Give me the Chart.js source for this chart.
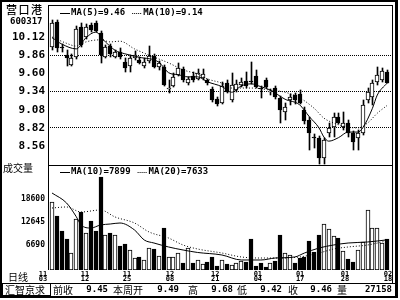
<!DOCTYPE html>
<html><head><meta charset="utf-8">
<script src="https://cdn.jsdelivr.net/npm/chart.js@4/dist/chart.umd.min.js"></script>
<style>html,body{margin:0;padding:0;background:#fff;}#wrap{width:400px;height:300px;position:relative;}</style>
</head><body><div id="wrap"><canvas id="c" width="400" height="300"></canvas></div>
<script>
// ---- data ----
const opens = [9.98,10.33,9.97,9.86,9.72,9.83,10.26,10.12,10.29,10.32, 10.18,9.83,9.99,9.83,9.91,9.76,9.71,9.82,9.79,9.71, 9.78,9.85,9.69,9.69,9.37,9.42,9.58,9.66,9.46,9.56, 9.52,9.53,9.51,9.38,9.23,9.18,9.46,9.22,9.36,9.43, 9.49,9.49,9.56,9.39,9.51,9.33,9.39,9.25,9.05,9.22, 9.29,9.31,9.08,8.93,8.68,8.68,8.39,8.75,8.83,8.98, 8.83,8.89,8.75,8.68,8.75,9.22,9.26,9.48,9.51,9.62];
const highs = [10.36,10.36,10.02,9.93,9.88,10.28,10.32,10.31,10.32,10.35, 10.21,10.01,10.02,9.93,9.96,9.82,9.86,9.92,9.83,9.82, 9.99,9.88,9.78,9.72,9.51,9.61,9.75,9.69,9.55,9.62, 9.66,9.66,9.52,9.41,9.26,9.47,9.51,9.60,9.51,9.53, 9.62,9.76,9.65,9.42,9.53,9.38,9.42,9.28,9.18,9.31, 9.32,9.36,9.12,8.98,8.73,8.70,8.68,8.89,9.03,9.03, 9.05,8.93,8.78,8.79,9.22,9.39,9.51,9.69,9.68,9.65];
const lows = [9.93,9.91,9.91,9.71,9.70,9.81,9.98,10.09,10.19,10.19, 9.75,9.82,9.83,9.82,9.81,9.62,9.62,9.79,9.73,9.68, 9.75,9.68,9.65,9.42,9.32,9.41,9.56,9.48,9.43,9.48, 9.51,9.51,9.43,9.19,9.13,9.16,9.32,9.19,9.33,9.41, 9.39,9.45,9.39,9.25,9.39,9.29,9.23,8.89,8.93,9.15, 9.16,9.16,8.88,8.50,8.53,8.30,8.30,8.69,8.69,8.88, 8.79,8.69,8.50,8.50,8.72,9.18,9.15,9.43,9.48,9.46];
const closes = [10.32,9.96,9.96,9.82,9.82,10.23,10.01,10.26,10.22,10.21, 9.86,9.98,9.88,9.91,9.83,9.68,9.82,9.86,9.75,9.76, 9.85,9.69,9.75,9.43,9.38,9.55,9.68,9.51,9.52,9.51, 9.61,9.59,9.46,9.22,9.16,9.42,9.33,9.43,9.45,9.48, 9.42,9.47,9.41,9.38,9.41,9.35,9.26,9.08,9.12,9.26, 9.22,9.18,8.92,8.75,8.67,8.39,8.65,8.82,8.98,8.89, 8.89,8.75,8.62,8.75,9.15,9.33,9.46,9.58,9.63,9.46];
const volumes = [17900,14150,10300,8120,4540,13280,15110,9780,12840,10300, 24290,9170,9610,9170,6290,6810,5240,3230,3320,2620, 5680,5500,3670,11090,3320,3320,4540,1750,5680,1750, 2620,1570,2180,3490,1050,2620,1570,1310,1910,2440, 2010,8120,1050,1910,870,1750,2360,9170,4540,3930, 1910,3060,3490,7690,4630,9170,11970,10740,8900,8300, 5060,2800,2180,5240,7420,15720,11090,10920,7150,8120];

// moving-average lines at these candle indices
const ma5Idx = [0,2,5,7,9,11,13,15,18,22,24,26,28,30,32,35,37,39,41,43,45,48,51,53,55,56,57,59,61,63,64,66,67,69];
const ma5Val = [10.11,10.02,9.95,10.11,10.19,10.05,9.93,9.88,9.83,9.76,9.61,9.58,9.55,9.55,9.48,9.41,9.33,9.42,9.45,9.41,9.36,9.23,9.15,8.98,8.82,8.69,8.63,8.68,8.76,8.76,8.82,9.10,9.29,9.46];
const ma10Idx = [0,3,5,7,10,12,14,17,20,24,27,30,32,35,37,41,45,48,51,54,56,58,61,63,65,67,69];
const ma10Val = [10.12,10.03,9.99,10.05,10.08,10.05,10.06,9.95,9.86,9.75,9.65,9.59,9.52,9.46,9.39,9.39,9.36,9.33,9.25,9.10,8.96,8.89,8.83,8.82,8.89,9.03,9.14];
const vma10Idx = [0,3,5,6,8,10,12,14,17,19,21,24,27,30,35,39,43,46,50,52,55,58,61,65,67,69];
const vma10Val = [20170,17550,13960,11790,11000,11790,12050,12310,10480,7860,7070,6030,5240,4590,3930,2620,2620,3140,3410,4450,5760,6550,7070,7340,7600,7899];
const vma20Idx = [0,3,6,10,13,17,20,24,27,30,35,39,43,47,51,55,58,61,65,69];
const vma20Val = [16240,16510,15200,15720,13890,12310,9960,8380,6550,5500,4450,3410,3140,3140,3410,4450,5500,6030,6550,7633];

const priceTicks = [10.12, 9.86, 9.60, 9.34, 9.08, 8.82, 8.56];
const priceGridTicks = [9.86, 9.34, 8.82];
const volTicks = [6690, 12645, 18600];
const dateTickPos = [-1.85, 6.8, 15.45, 24.3, 33.6, 42.4, 51.1, 60.35, 69.2];
const dateMonth = ['11','11','11','12','12','01','01','01','02'];
const dateDay = ['03','12','25','08','21','04','17','28','18'];

const stockName = '营口港';
const stockCode = '600317';
const priceLegend = [['MA(5)', '9.46'], ['MA(10)', '9.14']];
const volLegend = [['MA(10)', '7899'], ['MA(20)', '7633']];
const infoLabels = ['前收', '本周开', '高', '低', '收', '量'];
const infoValues = ['9.45', '9.49', '9.68', '9.42', '9.46', '27158'];

// ---- build ----
const idx = closes.map((_, i) => i);
const up = idx.map(i => closes[i] >= opens[i]);
const pts = (ix, v) => ix.map((k, j) => ({x: k, y: v[j]}));
const MONO = '"DejaVu Sans Mono", "Liberation Mono", monospace';
const CJK = '"Noto Sans CJK SC", "Noto Sans", sans-serif';

// snap bar rectangles to whole pixels so the black/white bars stay crisp
const snap = {
  id: 'snap',
  afterDatasetsUpdate(chart) {
    chart.data.datasets.forEach((ds, di) => {
      const meta = chart.getDatasetMeta(di);
      if (meta.type !== 'bar') return;
      const thin = ds.barThickness === 1;
      meta.data.forEach(el => {
        el.x = Math.round(el.x) + (thin ? 0.5 : 0);
        el.y = Math.round(el.y);
        el.base = Math.round(el.base);
      });
    });
  }
};

const decor = {
  id: 'decor',
  beforeDraw(chart) {
    const c = chart.ctx; c.save(); c.fillStyle = '#fff'; c.fillRect(0, 0, 400, 300); c.restore();
  },
  afterDraw(chart) {
    const c = chart.ctx, a = chart.chartArea;
    c.save();
    c.fillStyle = '#000'; c.strokeStyle = '#000';
    // outer frame
    c.fillRect(0, 0, 398, 2);
    c.fillRect(0, 0, 2, 298);
    c.fillRect(395, 0, 3, 298);
    c.fillRect(0, 296, 398, 2);
    // inner frame
    c.fillRect(a.left, a.top, a.right - a.left + 1, 1);
    c.fillRect(a.left, a.top, 1, a.bottom - a.top);
    c.fillRect(a.right, a.top, 1, 283 - a.top);
    const sep = Math.round(chart.scales.yP.bottom);
    c.fillRect(a.left, sep, a.right - a.left, 1);
    c.fillRect(0, 283, 395, 1);
    c.lineWidth = 1;
    c.strokeRect(2.5, 283.5, 48, 12);

    c.textBaseline = 'middle';
    // title
    c.font = '500 11px ' + CJK;
    if ('letterSpacing' in c) c.letterSpacing = '1.5px';
    c.fillText(stockName, 6, 10);
    if ('letterSpacing' in c) c.letterSpacing = '0px';
    c.font = 'bold 9px ' + MONO;
    c.fillText(stockCode, 10, 22);

    // legends
    const legend = (items, y) => {
      c.font = 'bold 9px ' + MONO;
      let x = 60;
      items.forEach((it, k) => {
        c.beginPath();
        c.setLineDash(k === 0 ? [] : [1, 1]);
        c.moveTo(x, y + 0.5); c.lineTo(x + 10, y + 0.5); c.stroke();
        c.setLineDash([]);
        const t = it[0] + '=' + it[1];
        c.fillText(t, x + 11, y);
        x = x + 11 + c.measureText(t).width + 7;
      });
    };
    legend(priceLegend, 13);
    legend(volLegend, 172);

    c.font = '10px ' + CJK;
    c.fillText('成交量', 3, 168);
    c.fillText('日线', 8, 277);

    // info bar
    c.fillText('汇智京求', 5, 290);
    const labX = [53, 113, 188, 237, 288, 337];
    const valR = [108, 179, 233, 282, 332, 392];
    infoLabels.forEach((t, k) => {
      c.font = '10px ' + CJK; c.textAlign = 'left';
      c.fillText(t, labX[k], 290);
      c.font = 'bold 9px ' + MONO; c.textAlign = 'right';
      c.fillText(infoValues[k], valR[k], 290);
    });
    c.restore();
  }
};

const noPad = s => { s.paddingTop = 0; s.paddingBottom = 0; s.paddingLeft = 0; s.paddingRight = 0; };

new Chart(document.getElementById('c'), {
  type: 'bar',
  data: {
    datasets: [
      {type: 'line', data: pts(ma5Idx, ma5Val), yAxisID: 'yP', borderColor: '#000', borderWidth: 1, pointRadius: 0, cubicInterpolationMode: 'monotone', order: 0},
      {type: 'line', data: pts(ma10Idx, ma10Val), yAxisID: 'yP', borderColor: '#000', borderWidth: 1, borderDash: [1, 2], pointRadius: 0, cubicInterpolationMode: 'monotone', order: 0},
      {type: 'bar', data: idx.map(i => ({x: i, y: [opens[i], closes[i]]})), yAxisID: 'yP',
        backgroundColor: up.map(u => u ? '#fff' : '#000'), borderColor: '#000', borderWidth: 1, borderSkipped: false,
        barThickness: 4, minBarLength: 1, grouped: false, order: 1},
      {type: 'bar', data: idx.map(i => ({x: i, y: [lows[i], highs[i]]})), yAxisID: 'yP',
        backgroundColor: '#000', barThickness: 1, grouped: false, order: 2},
      {type: 'line', data: pts(vma10Idx, vma10Val), yAxisID: 'yV', borderColor: '#000', borderWidth: 1, pointRadius: 0, cubicInterpolationMode: 'monotone', order: 0},
      {type: 'line', data: pts(vma20Idx, vma20Val), yAxisID: 'yV', borderColor: '#000', borderWidth: 1, borderDash: [1, 2], pointRadius: 0, cubicInterpolationMode: 'monotone', order: 0},
      {type: 'bar', data: idx.map(i => ({x: i, y: volumes[i]})), yAxisID: 'yV',
        backgroundColor: up.map(u => u ? '#fff' : '#000'), borderColor: '#000', borderWidth: 1, borderSkipped: false,
        barThickness: 4, grouped: false, order: 1}
    ]
  },
  options: {
    responsive: false, animation: false, devicePixelRatio: 1,
    layout: {padding: {left: 0, right: 8, top: 5, bottom: 17}},
    plugins: {legend: {display: false}, tooltip: {enabled: false}},
    scales: {
      x: {type: 'linear', min: -0.824, max: 70.03, offset: false,
        grid: {display: false, drawTicks: false}, border: {display: false},
        afterBuildTicks: s => { s.ticks = dateTickPos.map(v => ({value: v})); },
        afterFit: s => { s.height = 13; noPad(s); },
        ticks: {autoSkip: false, maxRotation: 0, minRotation: 0, padding: 1, color: '#000',
          font: {family: MONO, size: 7, weight: 'bold', lineHeight: 0.8},
          callback: (v, i) => [dateMonth[i], dateDay[i]]}},
      yV: {type: 'linear', position: 'left', stack: 's', stackWeight: 105, min: 0, max: 27508,
        afterBuildTicks: s => { s.ticks = volTicks.map(v => ({value: v})); },
        afterFit: s => { s.width = 48; noPad(s); },
        grid: {display: false, drawTicks: false}, border: {display: false},
        ticks: {autoSkip: false, padding: 3, color: '#000', font: {family: MONO, size: 8, weight: 'bold'},
          callback: v => String(v)}},
      yP: {type: 'linear', position: 'left', stack: 's', stackWeight: 160, min: 8.289, max: 10.578,
        afterBuildTicks: s => { s.ticks = priceTicks.map(v => ({value: v})); },
        afterFit: s => { s.width = 48; noPad(s); },
        grid: {drawTicks: false, lineWidth: 1,
          color: c => (c.tick && priceGridTicks.includes(c.tick.value)) ? '#000' : 'rgba(0,0,0,0)'},
        border: {display: false, dash: [1, 1]},
        ticks: {autoSkip: false, padding: 3, color: '#000', font: {family: MONO, size: 11, weight: 'bold'},
          callback: v => v.toFixed(2)}}
    }
  },
  plugins: [snap, decor]
});
</script></body></html>
